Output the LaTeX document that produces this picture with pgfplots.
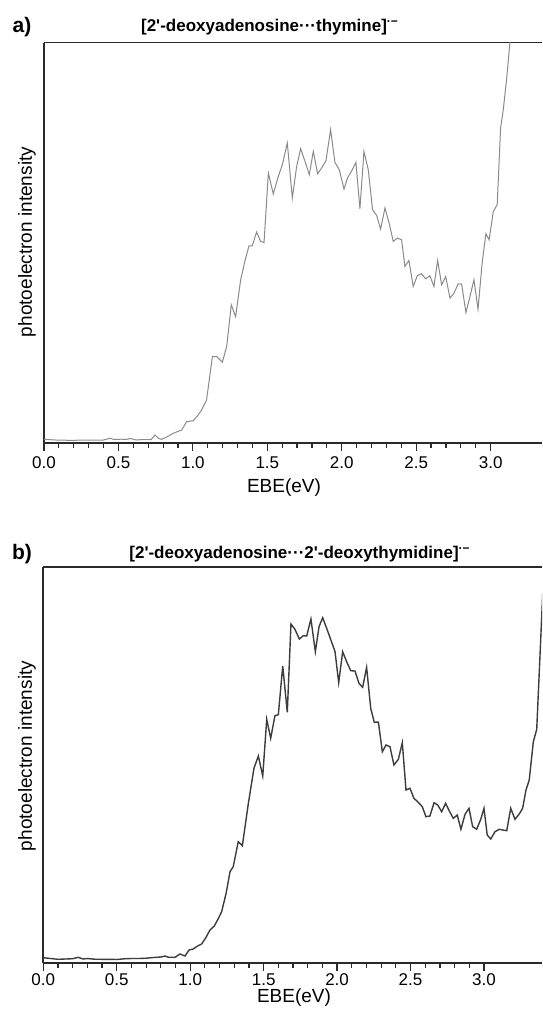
\documentclass[border=0pt]{standalone}
\usepackage{fontspec}
\setmainfont{Liberation Sans}
\usepackage{pgfplots}
\pgfplotsset{compat=1.18}

\definecolor{axcol}{HTML}{2A2A2A}
\definecolor{linea}{HTML}{8A8A8A}
\definecolor{lineb}{HTML}{3C3C3C}

\pgfplotsset{spec/.style={
  scale only axis, xmin=0, ymin=0,
  axis x line=box, axis y line=left,
  axis line style={-, axcol, line width=0.9pt},
  xtick pos=left, ytick=\empty,
  xtick={0,0.5,...,3.0}, minor x tick num=4,
  tick align=outside, major tick length=4pt, minor tick length=2.4pt,
  tick style={axcol, line width=0.6pt},
  /pgf/number format/assume math mode=true,
  xticklabel style={font=\fontsize{8.5}{10}\selectfont, inner sep=0pt,
    /pgf/number format/fixed, /pgf/number format/fixed zerofill,
    /pgf/number format/precision=1},
  clip=true}}

\begin{document}
\begin{tikzpicture}
\path[use as bounding box] (0,0) rectangle (271pt,-506pt);

% panel a
\begin{axis}[spec, at={(22pt,-221.5pt)}, anchor=south west,
  width=249pt, height=200.25pt, xmax=3.345, ymax=400,
  xticklabel style={yshift=-2.5pt}]
\addplot[linea, line width=0.5pt] coordinates {
(0.00,3.7) (0.10,2.8) (0.20,2.7) (0.30,3.0) (0.40,3.0) (0.443,4.7) (0.47,3.5)
(0.52,3.8) (0.55,3.5) (0.58,4.5) (0.62,3.0) (0.66,3.5) (0.72,3.5) (0.745,8)
(0.77,4.5) (0.79,3.7) (0.83,6.5) (0.868,9.7) (0.925,13) (0.958,21.3) (1.003,22.3)
(1.03,27) (1.059,33) (1.092,43) (1.131,86.3) (1.16,86.3) (1.198,80.7) (1.227,96.3)
(1.258,138) (1.287,126.3) (1.321,163) (1.35,182) (1.377,197) (1.399,197)
(1.428,210.7) (1.455,201.3) (1.478,200.3) (1.507,269.7) (1.54,248.7) (1.574,266.3)
(1.601,278) (1.634,299.7) (1.668,244.7) (1.697,276.3) (1.724,294) (1.753,281.3)
(1.782,268) (1.809,291.3) (1.838,269) (1.865,274.7) (1.894,282) (1.925,313)
(1.954,280.3) (1.983,273) (2.015,253.7) (2.039,264.7) (2.067,272) (2.095,280.3)
(2.122,234) (2.149,291.3) (2.178,273) (2.207,233) (2.234,227.3) (2.261,213.7)
(2.29,234.7) (2.319,219) (2.346,201.3) (2.373,204.7) (2.402,203) (2.424,176.3)
(2.451,182.3) (2.48,156.3) (2.507,167) (2.536,169) (2.563,164) (2.592,167)
(2.619,156.3) (2.644,182.3) (2.671,158) (2.698,166.3) (2.727,144.7) (2.754,149.7)
(2.782,159) (2.805,158.7) (2.834,130.3) (2.861,146.3) (2.888,163) (2.915,133.7)
(2.944,181.3) (2.968,209) (2.99,203) (3.018,231.3) (3.044,238) (3.067,314.7)
(3.085,333) (3.107,363) (3.13,400.7) (3.15,430)};
\end{axis}

% panel b
\begin{axis}[spec, at={(21.65pt,-481.5pt)}, anchor=south west,
  width=249.35pt, height=198pt, xmax=3.395, ymax=396,
  xticklabel style={yshift=-1.3pt}]
\addplot[lineb, line width=0.7pt] coordinates {
(0.00,5.3) (0.05,4.5) (0.10,3.7) (0.15,4.0) (0.20,4.3) (0.238,5.7) (0.27,4.0)
(0.30,4.5) (0.35,3.8) (0.40,3.7) (0.45,3.7) (0.50,3.5) (0.55,4.2) (0.60,4.5)
(0.65,4.5) (0.70,4.8) (0.75,5.5) (0.80,6.0) (0.828,7) (0.85,5.8) (0.897,5.7)
(0.93,9) (0.965,7) (0.992,13) (1.02,14) (1.05,17) (1.078,19) (1.105,25) (1.135,33)
(1.164,37) (1.19,44) (1.214,51.3) (1.245,70) (1.271,91.3) (1.293,96.3) (1.327,121.3)
(1.355,117.3) (1.396,159.7) (1.434,194.7) (1.464,207) (1.494,187) (1.521,243.7)
(1.548,224.7) (1.577,247.3) (1.60,248.3) (1.63,297) (1.661,250.7) (1.686,339)
(1.713,333.7) (1.743,324) (1.77,327.3) (1.793,327) (1.822,344) (1.852,311.3)
(1.877,336.3) (1.902,345.3) (1.929,334.7) (1.958,323) (1.986,311.3) (2.011,280.3)
(2.038,311.3) (2.065,301.3) (2.093,292.3) (2.122,292) (2.149,279.7) (2.174,275.7)
(2.201,295.7) (2.229,254.7) (2.253,240.7) (2.281,241) (2.308,211.3) (2.333,218)
(2.36,216.3) (2.387,198) (2.417,203.7) (2.444,220.3) (2.469,173) (2.496,174.7)
(2.523,164.7) (2.553,160.7) (2.58,156.3) (2.605,146.3) (2.632,147) (2.66,160.3)
(2.685,158) (2.712,151.3) (2.739,159.7) (2.764,152) (2.791,144.7) (2.818,148)
(2.843,133.7) (2.871,148.7) (2.898,154.7) (2.923,136.3) (2.95,133.7) (2.978,143.7)
(3.0,154.7) (3.022,128) (3.046,124) (3.075,131.3) (3.104,133.7) (3.13,133)
(3.155,132.3) (3.182,154.7) (3.211,143.7) (3.24,149) (3.263,154.7) (3.286,173)
(3.308,183) (3.336,221.3) (3.359,233.7) (3.377,293) (3.388,329.7) (3.40,370)};
\end{axis}

% labels and titles
\tikzset{lab/.style={font=\fontsize{9.5}{11}\selectfont, inner sep=0pt},
         ttl/.style={font=\fontsize{8.5}{10}\selectfont\bfseries, inner sep=0pt}}
\node[font=\fontsize{10.5}{12}\selectfont\bfseries, inner sep=0pt] at (11pt,-13.5pt) {a)};
\node[font=\fontsize{10.5}{12}\selectfont\bfseries, inner sep=0pt] at (11pt,-277pt) {b)};
\node[ttl] at (135pt,-13.5pt) {[2\textquotesingle-deoxyadenosine···thymine]\textsuperscript{·−}};
\node[ttl] at (150pt,-277pt) {[2\textquotesingle-deoxyadenosine···2\textquotesingle-deoxythymidine]\textsuperscript{·−}};
\node[lab, rotate=90] at (13.5pt,-121pt) {photoelectron intensity};
\node[lab, rotate=90] at (13.5pt,-378pt) {photoelectron intensity};
\node[lab] at (142pt,-244pt) {EBE(eV)};
\node[lab] at (147pt,-499pt) {EBE(eV)};
\end{tikzpicture}
\end{document}
